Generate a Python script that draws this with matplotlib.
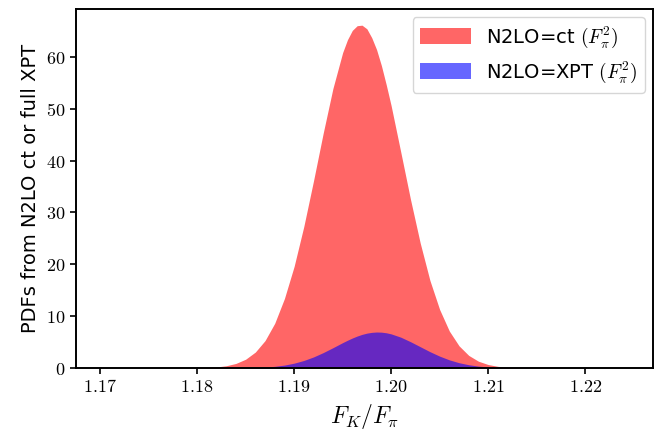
import numpy as np
import matplotlib
matplotlib.use('Agg')
from matplotlib import pyplot as plt
from matplotlib.ticker import FuncFormatter

plt.rcParams['mathtext.fontset'] = 'cm'
plt.rcParams['font.family'] = 'DejaVu Sans'

# F_K/F_pi grid the PDFs are tabulated on (finer around the peak)
fk_x = [1.1675, 1.180, 1.181, 1.182, 1.183, 1.184, 1.185, 1.186, 1.187, 1.188,
        1.189, 1.190, 1.191, 1.192, 1.193, 1.194, 1.195, 1.1955, 1.196, 1.1965,
        1.197, 1.1975, 1.198, 1.1985, 1.199, 1.1995, 1.200, 1.201, 1.202, 1.203,
        1.204, 1.205, 1.206, 1.207, 1.208, 1.209, 1.210, 1.211, 1.212, 1.213,
        1.214, 1.227]

# PDF from the N2LO counterterm fit
ct_pdf = [0.0, 0.04, 0.09, 0.21, 0.44, 0.89, 1.70, 3.08, 5.29, 8.63,
          13.4, 19.6, 27.3, 36.1, 45.3, 53.9, 60.8, 63.3, 65.1, 66.0,
          66.1, 65.4, 63.7, 61.4, 58.3, 54.6, 50.6, 41.6, 32.5, 24.1,
          16.9, 11.3, 7.14, 4.29, 2.44, 1.32, 0.68, 0.33, 0.15, 0.07,
          0.03, 0.0]

# PDF from the N2LO full chiral perturbation theory fit
xpt_pdf = [0.0, 0.0, 0.0, 0.0, 0.01, 0.02, 0.05, 0.09, 0.18, 0.33,
           0.57, 0.94, 1.46, 2.14, 2.98, 3.92, 4.90, 5.36, 5.79, 6.17,
           6.49, 6.73, 6.88, 6.95, 6.92, 6.80, 6.59, 5.95, 5.08, 4.12,
           3.16, 2.30, 1.58, 1.03, 0.64, 0.37, 0.21, 0.11, 0.05, 0.02,
           0.01, 0.0]

labels = [r'N2LO=ct $(F_\pi^2)$', r'N2LO=XPT $(F_\pi^2)$']
xticks = [1.17, 1.18, 1.19, 1.20, 1.21, 1.22]
yticks = [0, 10, 20, 30, 40, 50, 60]

fig = plt.figure(figsize=(6.54, 4.33), dpi=100)
ax = fig.add_axes([0.116, 0.150, 0.8825, 0.829])

ax.fill_between(fk_x, 0, ct_pdf, color='red', alpha=0.6, linewidth=0, label=labels[0])
ax.fill_between(fk_x, 0, xpt_pdf, color='blue', alpha=0.6, linewidth=0, label=labels[1])

ax.set_xlim(1.1675, 1.227)
ax.set_ylim(0, 69.2)
ax.set_xticks(xticks)
ax.set_yticks(yticks)
ax.xaxis.set_major_formatter(FuncFormatter(lambda v, p: r'$%.2f$' % v))
ax.yaxis.set_major_formatter(FuncFormatter(lambda v, p: r'$%d$' % v))
ax.tick_params(direction='out', length=4, width=1.2, labelsize=13, colors='black')
for s in ax.spines.values():
    s.set_linewidth(1.4)

ax.set_xlabel(r'$F_K/F_\pi$', fontsize=17)
ax.set_ylabel('PDFs from N2LO ct or full XPT', fontsize=14)

ax.legend(loc='upper right', fontsize=14, handlelength=2.6, handleheight=0.9,
          borderaxespad=0.4, framealpha=0.8)

fig.savefig('out.png', dpi=100)
